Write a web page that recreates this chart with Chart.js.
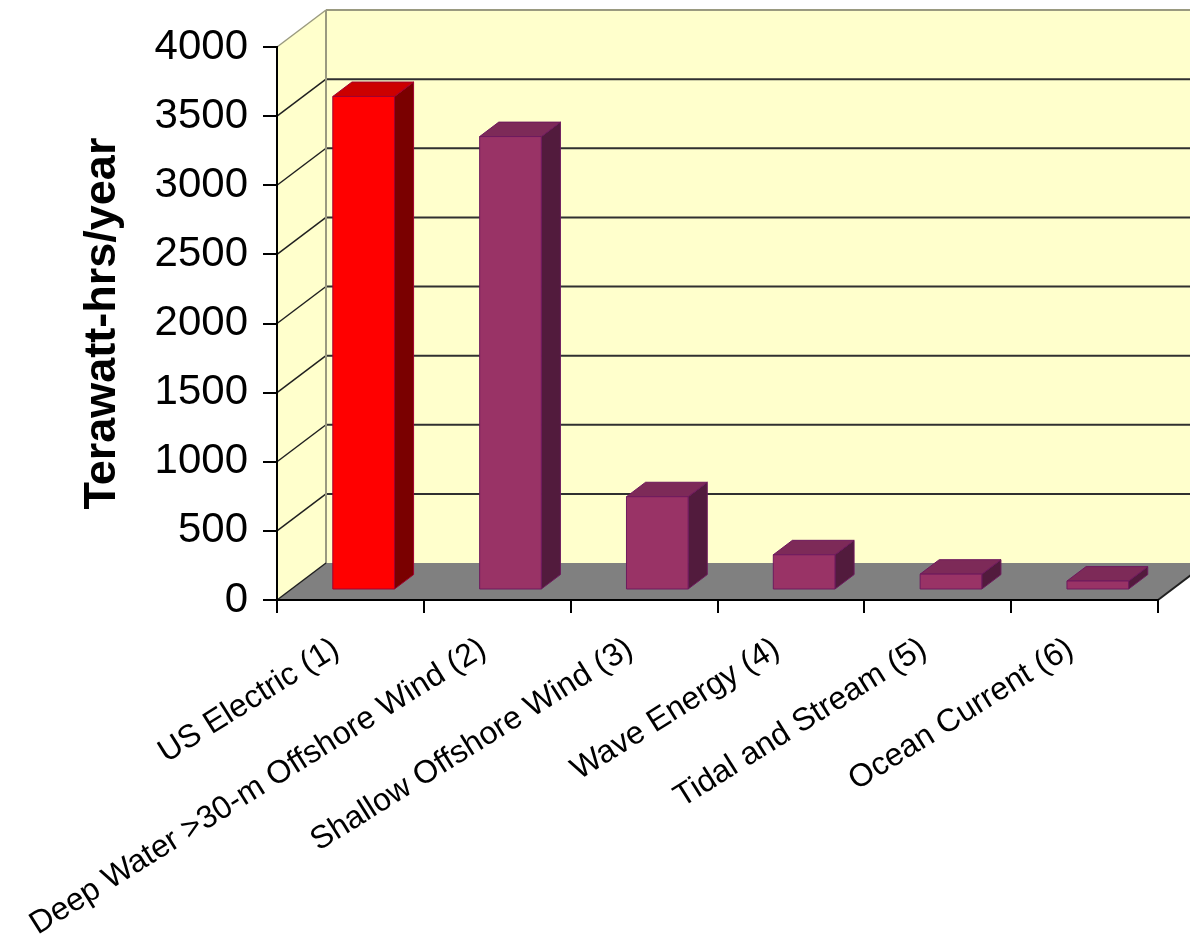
<!DOCTYPE html>
<html lang="en">
<head>
    <meta charset="UTF-8">
    <title>Offshore Energy Potential</title>
    <script src="https://cdn.jsdelivr.net/npm/chart.js"></script>
    <style>
        body {
            margin: 0;
            background: #ffffff;
        }

        .chart-container {
            width: 1190px;
            height: 950px;
        }
    </style>
</head>
<body>
<div class="chart-container"><canvas id="chart"></canvas></div>

<script>
    const categories = [
        'US Electric (1)',
        'Deep Water >30-m Offshore Wind (2)',
        'Shallow Offshore Wind (3)',
        'Wave Energy (4)',
        'Tidal and Stream (5)',
        'Ocean Current (6)'
    ];
    const values = [3570, 3280, 675, 255, 115, 65];
    const yMin = 0;
    const yMax = 4000;
    const yStep = 500;

    // colours of each bar: front face, top, side, edge
    const faceColors = ['#ff0000', '#993366', '#993366', '#993366', '#993366', '#993366'];
    const topColors = ['#cc0000', '#7d2a58', '#7d2a58', '#7d2a58', '#7d2a58', '#7d2a58'];
    const sideColors = ['#7a0000', '#521b3d', '#521b3d', '#521b3d', '#521b3d', '#521b3d'];
    const edgeColors = ['#a00030', '#6e1a5e', '#6e1a5e', '#6e1a5e', '#6e1a5e', '#6e1a5e'];

    const fontFamily = 'Arial, "Liberation Sans", sans-serif';

    // full depth of the box, front plane -> back wall
    const DEPTH_X = 49;
    const DEPTH_Y = -37;
    // bars sit between these fractions of the depth
    const BAR_FRONT = 0.27;
    const BAR_BACK = 0.66;

    function poly(ctx, pts, fill, stroke, width) {
        ctx.beginPath();
        ctx.moveTo(pts[0][0], pts[0][1]);
        for (let i = 1; i < pts.length; i++) ctx.lineTo(pts[i][0], pts[i][1]);
        ctx.closePath();
        if (fill) {
            ctx.fillStyle = fill;
            ctx.fill();
        }
        if (stroke) {
            ctx.strokeStyle = stroke;
            ctx.lineWidth = width || 1;
            ctx.stroke();
        }
    }

    function line(ctx, x1, y1, x2, y2, color, width) {
        ctx.beginPath();
        ctx.moveTo(x1, y1);
        ctx.lineTo(x2, y2);
        ctx.strokeStyle = color;
        ctx.lineWidth = width;
        ctx.stroke();
    }

    // walls, floor and gridlines behind the bars
    const wallsPlugin = {
        id: 'walls',
        beforeDraw(chart) {
            const {ctx, chartArea: a, scales: {y}} = chart;
            const dx = DEPTH_X, dy = DEPTH_Y;
            ctx.save();
            // side wall
            poly(ctx, [[a.left, a.top], [a.left + dx, a.top + dy], [a.left + dx, a.bottom + dy], [a.left, a.bottom]], '#ffffcc');
            // back wall
            poly(ctx, [[a.left + dx, a.top + dy], [a.right + dx, a.top + dy], [a.right + dx, a.bottom + dy], [a.left + dx, a.bottom + dy]], '#ffffcc');
            // floor
            poly(ctx, [[a.left, a.bottom], [a.right, a.bottom], [a.right + dx, a.bottom + dy], [a.left + dx, a.bottom + dy]], '#808080');

            // gridlines on side wall and back wall
            y.ticks.forEach(t => {
                if (t.value <= yMin || t.value >= yMax) return;
                const py = y.getPixelForValue(t.value);
                line(ctx, a.left, py, a.left + dx, py + dy, '#202020', 1.5);
                line(ctx, a.left + dx, py + dy, a.right + dx, py + dy, '#303030', 2);
            });

            // wall edges
            line(ctx, a.left, a.top, a.left + dx, a.top + dy, '#9a9a80', 1.5);
            line(ctx, a.left + dx, a.top + dy, a.right + dx, a.top + dy, '#9a9a80', 2);
            line(ctx, a.left + dx, a.top + dy, a.left + dx, a.bottom + dy, '#9a9a80', 2);
            // floor edges
            line(ctx, a.left, a.bottom, a.left + dx, a.bottom + dy, '#202020', 1.5);
            line(ctx, a.right, a.bottom, a.right + dx, a.bottom + dy, '#202020', 2);
            ctx.restore();
        }
    };

    // 3D boxes for the bars, from the bar elements Chart.js laid out
    const boxPlugin = {
        id: 'boxes',
        afterDatasetsDraw(chart) {
            const ctx = chart.ctx;
            const meta = chart.getDatasetMeta(0);
            const ox = DEPTH_X * BAR_FRONT, oy = DEPTH_Y * BAR_FRONT;
            const bx = DEPTH_X * (BAR_BACK - BAR_FRONT), by = DEPTH_Y * (BAR_BACK - BAR_FRONT);
            ctx.save();
            ctx.lineJoin = 'round';
            meta.data.forEach((bar, i) => {
                const {x, y, base, width} = bar.getProps(['x', 'y', 'base', 'width'], true);
                const L = x - width / 2 + ox, R = x + width / 2 + ox;
                const T = y + oy, B = base + oy;
                const edge = edgeColors[i];
                // side
                poly(ctx, [[R, T], [R + bx, T + by], [R + bx, B + by], [R, B]], sideColors[i], edge, 1);
                // top
                poly(ctx, [[L, T], [R, T], [R + bx, T + by], [L + bx, T + by]], topColors[i], edge, 1);
                // front
                poly(ctx, [[L, T], [R, T], [R, B], [L, B]], faceColors[i], edge, 1);
            });
            ctx.restore();
        }
    };

    new Chart(document.getElementById('chart'), {
        type: 'bar',
        data: {
            labels: categories,
            datasets: [{
                data: values,
                backgroundColor: 'rgba(0,0,0,0)',
                borderWidth: 0,
                categoryPercentage: 1,
                barPercentage: 0.42
            }]
        },
        options: {
            responsive: true,
            maintainAspectRatio: false,
            animation: false,
            layout: {
                padding: {top: 47, right: 32, left: 0, bottom: 0}
            },
            plugins: {
                legend: {display: false},
                tooltip: {enabled: false}
            },
            scales: {
                x: {
                    grid: {drawOnChartArea: false, offset: true, tickLength: 13, color: '#000', lineWidth: 2},
                    border: {color: '#000', width: 2},
                    ticks: {
                        autoSkip: false,
                        minRotation: 32,
                        maxRotation: 32,
                        padding: 17,
                        labelOffset: -14,
                        color: '#000',
                        font: {family: fontFamily, size: 32}
                    },
                    afterFit: s => { s.height = 350; }
                },
                y: {
                    min: yMin,
                    max: yMax,
                    grid: {drawOnChartArea: false, tickLength: 14, color: '#000', lineWidth: 2},
                    border: {color: '#000', width: 2},
                    ticks: {
                        stepSize: yStep,
                        padding: 15,
                        color: '#000',
                        format: {useGrouping: false},
                        font: {family: fontFamily, size: 42}
                    },
                    title: {
                        display: true,
                        text: 'Terawatt-hrs/year',
                        color: '#000',
                        font: {family: fontFamily, size: 45, weight: 'bold'},
                        padding: {top: 76, bottom: 0}
                    },
                    afterFit: s => { s.width = 277; }
                }
            }
        },
        plugins: [wallsPlugin, boxPlugin]
    });
</script>
</body>
</html>
